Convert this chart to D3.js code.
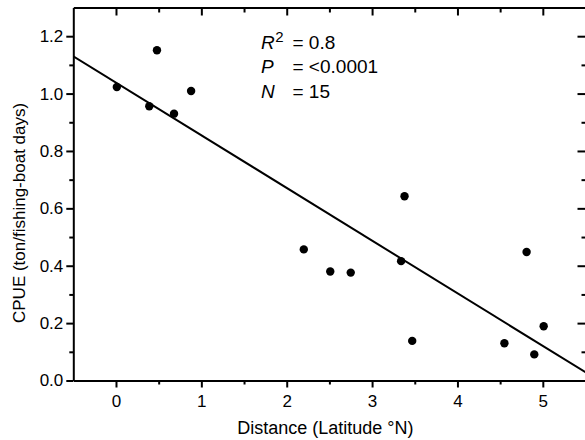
<!DOCTYPE html>
<html><head><meta charset="utf-8">
<script src="https://cdn.jsdelivr.net/npm/d3@7"></script>
<style>body{margin:0;background:#fff}svg{display:block}</style>
</head><body>
<svg id="c" width="585" height="440"></svg>
<script>
const distance = [0.01, 0.39, 0.48, 0.68, 0.88, 2.20, 2.51, 2.75, 3.34, 3.38, 3.47, 4.55, 4.81, 4.90, 5.01];
const cpue     = [1.023, 0.956, 1.151, 0.930, 1.009, 0.457, 0.380, 0.376, 0.416, 0.642, 0.138, 0.130, 0.448, 0.091, 0.189];
const xMajorTicks = [0, 1, 2, 3, 4, 5];
const xMinorTicks = [0.5, 1.5, 2.5, 3.5, 4.5];
const yMajorTicks = [0, 0.2, 0.4, 0.6, 0.8, 1.0, 1.2];
const yMinorTicks = [0.1, 0.3, 0.5, 0.7, 0.9, 1.1];
const fitIntercept = 1.038;
const fitSlope = -0.1835;
const fitRange = [-0.5, 5.5];
const statsLabels = ["R", "P", "N"];
const statsValues = ["= 0.8", "= <0.0001", "= 15"];

const svg = d3.select("#c");
const font = "'Liberation Sans', Arial, Helvetica, sans-serif";
const L = 73.3, R = 585.5, T = 7.5, B = 380.5;
const x = d3.scaleLinear().domain([-0.5, 5.5]).range([L, R]);
const y = d3.scaleLinear().domain([0, 1.3]).range([B, T]);

function style(g) {
  g.select(".domain").attr("stroke-width", 2).attr("stroke", "#000");
  g.selectAll(".tick line").attr("stroke-width", 2).attr("stroke", "#000");
  g.selectAll(".tick text").attr("font-family", font).attr("font-size", 17).attr("fill", "#000");
}

// bottom axis
svg.append("g").attr("transform", `translate(0,${B})`)
  .call(d3.axisBottom(x).tickValues(xMajorTicks).tickSize(7).tickSizeOuter(0).tickPadding(7).tickFormat(d3.format("d")))
  .call(style);
svg.append("g").attr("transform", `translate(0,${B})`)
  .call(d3.axisBottom(x).tickValues(xMinorTicks).tickSize(4).tickSizeOuter(0).tickFormat(""))
  .call(style).call(g => g.select(".domain").remove());
// top axis (inward ticks)
svg.append("g").attr("transform", `translate(0,${T})`)
  .call(d3.axisBottom(x).tickValues(xMajorTicks).tickSize(8).tickSizeOuter(0).tickFormat(""))
  .call(style);
svg.append("g").attr("transform", `translate(0,${T})`)
  .call(d3.axisBottom(x).tickValues(xMinorTicks).tickSize(5).tickSizeOuter(0).tickFormat(""))
  .call(style).call(g => g.select(".domain").remove());
// left axis
svg.append("g").attr("transform", `translate(${L},0)`)
  .call(d3.axisLeft(y).tickValues(yMajorTicks).tickSize(7).tickSizeOuter(0).tickPadding(3).tickFormat(d3.format(".1f")))
  .call(style);
svg.append("g").attr("transform", `translate(${L},0)`)
  .call(d3.axisLeft(y).tickValues(yMinorTicks).tickSize(4).tickSizeOuter(0).tickFormat(""))
  .call(style).call(g => g.select(".domain").remove());
// right axis (inward ticks)
svg.append("g").attr("transform", `translate(${R},0)`)
  .call(d3.axisLeft(y).tickValues(yMajorTicks).tickSize(8).tickSizeOuter(0).tickFormat(""))
  .call(style);
svg.append("g").attr("transform", `translate(${R},0)`)
  .call(d3.axisLeft(y).tickValues(yMinorTicks).tickSize(4).tickSizeOuter(0).tickFormat(""))
  .call(style).call(g => g.select(".domain").remove());

// regression line
const clipId = "plotclip";
svg.append("clipPath").attr("id", clipId).append("rect")
  .attr("x", L).attr("y", T).attr("width", R - L).attr("height", B - T);
svg.append("path")
  .datum(fitRange.map(d => [d, fitIntercept + fitSlope * d]))
  .attr("d", d3.line().x(d => x(d[0])).y(d => y(d[1])))
  .attr("stroke", "#000").attr("stroke-width", 2).attr("fill", "none")
  .attr("clip-path", `url(#${clipId})`);

// points
svg.append("g").selectAll("circle").data(distance.map((d, i) => [d, cpue[i]]))
  .join("circle").attr("cx", d => x(d[0])).attr("cy", d => y(d[1])).attr("r", 4.2).attr("fill", "#000");

// stats annotation
const st = svg.append("g").attr("font-family", font).attr("font-size", 19).attr("fill", "#000");
statsLabels.forEach((lab, i) => {
  const t = st.append("text").attr("y", 48.5 + i * 24.5);
  t.append("tspan").attr("x", 261).attr("font-style", "italic").text(lab);
  if (i === 0) t.append("tspan").attr("font-size", 15).attr("dx", 0.5).attr("dy", -7).text("2");
  t.append("tspan").attr("x", 292.5).attr("dy", i === 0 ? 7 : 0).text(statsValues[i]);
});

// axis titles
svg.append("text").attr("x", (L + R) / 2 - 4).attr("y", 434)
  .attr("text-anchor", "middle").attr("font-family", font).attr("font-size", 18)
  .text("Distance (Latitude \u00B0N)");
svg.append("text").attr("transform", `translate(25,323) rotate(-90)`)
  .attr("text-anchor", "start").attr("font-family", font).attr("font-size", 17)
  .text("CPUE (ton/fishing-boat days)");
</script>
</body></html>
